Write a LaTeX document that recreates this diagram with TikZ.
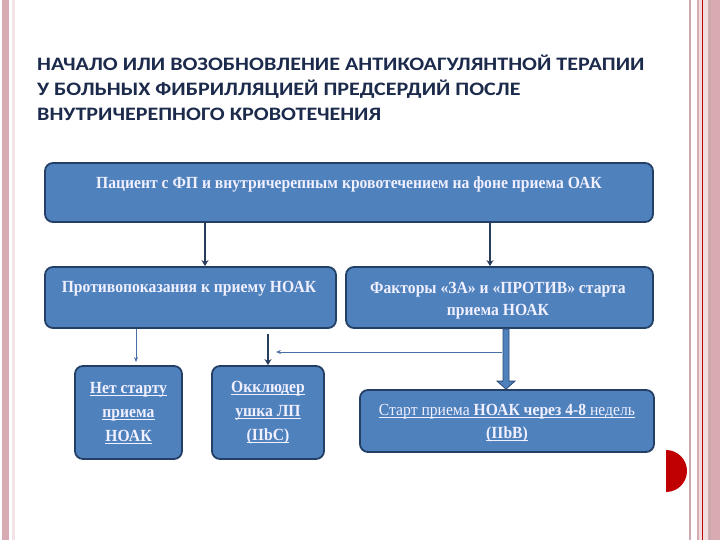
\documentclass[tikz,border=0pt]{standalone}
\usepackage{fontspec}
\setmainfont{Liberation Serif}
\newfontfamily\titlefont[FakeStretch=1.16]{Carlito}
\newfontfamily\boxfont[FakeStretch=0.92]{Liberation Serif}
\usetikzlibrary{arrows.meta,calc}
\definecolor{boxblue}{HTML}{4F81BD}
\definecolor{boxedge}{HTML}{243F66}
\definecolor{darkarr}{HTML}{283C5E}
\definecolor{thinarr}{HTML}{4A6FA5}
\definecolor{titlecol}{HTML}{1C2B4C}
\definecolor{pinkband}{HTML}{D8AAB2}
\definecolor{palepink}{HTML}{F3E3E6}
\definecolor{greypink}{HTML}{C9A9AB}
\definecolor{redline}{HTML}{C00000}
\newcommand{\myul}[1]{\leavevmode\setbox0=\hbox{#1}\rlap{\rule[-2.6pt]{\wd0}{1.1pt}}\box0}
\tikzset{
  bluebox/.style={draw=boxedge, line width=1.8pt, fill=boxblue, rounded corners=8pt, inner sep=0pt},
  boxtext/.style={text=white!94!blue, font=\boxfont\bfseries\fontsize{17}{22.5}\selectfont, align=center, inner sep=0pt},
  darkarrow/.style={draw=darkarr, line width=2.6pt, -{Stealth[length=6pt,width=7pt]}},
  thinarrow/.style={draw=thinarr, line width=0.7pt, -{Stealth[length=5pt,width=4pt]}},
}
\begin{document}
\begin{tikzpicture}[x=1pt,y=-1pt]
\useasboundingbox (0,0) rectangle (720,540);
% page decorations
\fill[pinkband] (2,0) rectangle (9,540);
\fill[palepink] (12,0) rectangle (15,540);
\fill[greypink] (689,0) rectangle (691,540);
\fill[pinkband] (697,0) rectangle (720,540);
\fill[white!60!pinkband] (699,0) rectangle (708,540);
\fill[redline] (702,0) rectangle (703.2,540);
\fill[greypink] (709,0) rectangle (711,540);
% title
\node[anchor=west, text=titlecol, font=\titlefont\bfseries\fontsize{19}{25}\selectfont, align=left, inner sep=0pt] (title) at (37,88)
 {НАЧАЛО ИЛИ ВОЗОБНОВЛЕНИЕ АНТИКОАГУЛЯНТНОЙ ТЕРАПИИ\\У БОЛЬНЫХ ФИБРИЛЛЯЦИЕЙ ПРЕДСЕРДИЙ ПОСЛЕ\\ВНУТРИЧЕРЕПНОГО КРОВОТЕЧЕНИЯ};
% boxes
\node[bluebox, minimum width=608, minimum height=59] (b1) at (349,192.5) {};
\node[boxtext] (t1) at (349,184) {Пациент с ФП и внутричерепным кровотечением на фоне приема ОАК};
\node[bluebox, minimum width=291, minimum height=61] (b2) at (190.5,297.5) {};
\node[boxtext] (t2) at (189,289) {Противопоказания к приему НОАК};
\node[bluebox, minimum width=307, minimum height=61] (b3) at (499.5,297.5) {};
\node[boxtext] (t3) at (498,300.5) {Факторы «ЗА» и «ПРОТИВ» старта\\приема НОАК};
\node[bluebox, minimum width=107, minimum height=93] (b4) at (128.5,412.5) {};
\node[boxtext, font=\boxfont\bfseries\fontsize{17}{24}\selectfont] (t4) at (128.5,413) {\myul{Нет старту}\\\myul{приема}\\\myul{НОАК}};
\node[bluebox, minimum width=112, minimum height=93] (b5) at (268,412.5) {};
\node[boxtext, font=\boxfont\bfseries\fontsize{17}{24}\selectfont] (t5) at (268,413) {\myul{Окклюдер}\\\myul{ушка ЛП}\\\myul{(IIbC)}};
\node[bluebox, minimum width=294, minimum height=62] (b6) at (507,421) {};
\node[boxtext] (t6) at (507,423) {\myul{\mdseries Старт приема \bfseries НОАК через 4-8 \mdseries недель}\\\myul{(IIbB)}};
% x positions
\coordinate (xa) at (205,0);
\coordinate (xb) at (490,0);
\coordinate (xc) at (136,0);
\coordinate (xd) at (268,0);
\coordinate (xe) at (506,0);
\coordinate (yh) at (0,352);
% connectors
\draw[darkarrow] (b1.south -| xa) -- (b2.north -| xa);
\draw[darkarrow] (b1.south -| xb) -- (b3.north -| xb);
\draw[thinarrow] (b2.south -| xc) -- ($(b4.north -| xc)+(0,-3)$);
\draw[darkarrow] ($(b2.south -| xd)+(0,5)$) -- (b5.north -| xd);
% block arrow from b3 to b6
\coordinate (s) at (b3.south -| xe);
\coordinate (e) at (b6.north -| xe);
\filldraw[fill=boxblue, draw=boxedge!80!boxblue, line width=0.8pt]
  ($(s)+(-3,0)$) -- ($(e)+(-3,-8)$) -- ($(e)+(-9,-8)$) -- (e) -- ($(e)+(9,-8)$) -- ($(e)+(3,-8)$) -- ($(s)+(3,0)$) -- cycle;
\draw[thinarrow] ($(yh -| xe)+(-4,0)$) -- ($(yh -| xd)+(8,0)$);
% red semicircle
\fill[redline] (666,492) arc[start angle=90, end angle=-90, radius=21] -- cycle;
\end{tikzpicture}
\end{document}
